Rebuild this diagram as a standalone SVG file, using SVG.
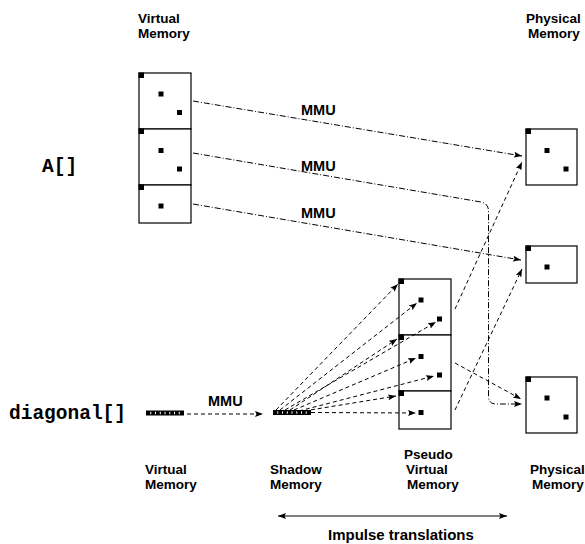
<svg xmlns="http://www.w3.org/2000/svg" width="585" height="544" viewBox="0 0 585 544">
<style>
.box{fill:#fff;stroke:#000;stroke-width:1.2}
.dot{fill:#000}
.lbl{font-family:"Liberation Sans",Arial,sans-serif;font-weight:bold;font-size:13.5px;fill:#000}
.big{font-family:"Liberation Sans",Arial,sans-serif;font-weight:bold;font-size:15px;fill:#000}
.mmu{font-family:"Liberation Sans",Arial,sans-serif;font-weight:bold;font-size:14.5px;fill:#000}
.code{font-family:"Liberation Mono","Courier New",monospace;font-weight:bold;font-size:19.5px;fill:#000}
.dd{fill:none;stroke:#000;stroke-width:1;stroke-dasharray:6 2 1 2;marker-end:url(#ah)}
.da{fill:none;stroke:#000;stroke-width:1;stroke-dasharray:4 3;marker-end:url(#ah)}
.sl{fill:none;stroke:#000;stroke-width:1.2;marker-end:url(#ah);marker-start:url(#ahs)}
</style>
<defs>
<marker id="ah" markerUnits="userSpaceOnUse" markerWidth="9" markerHeight="6" refX="8" refY="3" orient="auto"><path d="M0,0 L8,3 L0,6 L1.5,3 z" fill="#000"/></marker>
<marker id="ahs" markerUnits="userSpaceOnUse" markerWidth="9" markerHeight="6" refX="0" refY="3" orient="auto"><path d="M8,0 L0,3 L8,6 L6.5,3 z" fill="#000"/></marker>
<g id="strip"><rect x="0" y="0" width="38" height="5" fill="#000"/><g fill="#fff"><rect x="4.3" y="1.3" width="1" height="2.4"/><rect x="9" y="1.3" width="1" height="2.4"/><rect x="13.8" y="1.3" width="1" height="2.4"/><rect x="18.5" y="1.3" width="1" height="2.4"/><rect x="23.3" y="1.3" width="1" height="2.4"/><rect x="28" y="1.3" width="1" height="2.4"/><rect x="32.8" y="1.3" width="1" height="2.4"/></g></g>
</defs>

<g id="labels">
<text class="lbl" x="138" y="23">Virtual</text>
<text class="lbl" x="138" y="38">Memory</text>
<text class="lbl" x="526" y="23">Physical</text>
<text class="lbl" x="528" y="38">Memory</text>
<text class="code" x="42" y="172">A[]</text>
<text class="code" x="9" y="419">diagonal[]</text>
<text class="lbl" x="145" y="474">Virtual</text>
<text class="lbl" x="145" y="489">Memory</text>
<text class="lbl" x="270" y="474">Shadow</text>
<text class="lbl" x="270" y="489">Memory</text>
<text class="lbl" x="404" y="459">Pseudo</text>
<text class="lbl" x="406" y="474">Virtual</text>
<text class="lbl" x="407" y="489">Memory</text>
<text class="lbl" x="530" y="474">Physical</text>
<text class="lbl" x="532" y="489">Memory</text>
<text class="big" x="328" y="540">Impulse translations</text>
</g>

<g id="virtual-memory">
<rect class="box" x="139" y="73" width="52" height="56"/>
<rect class="box" x="139" y="129" width="52" height="56"/>
<rect class="box" x="139" y="185" width="52" height="38"/>
<rect class="dot" x="138.5" y="72.5" width="5.5" height="5.5"/>
<rect class="dot" x="158.5" y="91.5" width="5" height="5"/>
<rect class="dot" x="177" y="110" width="5" height="5"/>
<rect class="dot" x="138.5" y="128.5" width="5.5" height="5.5"/>
<rect class="dot" x="158.5" y="148" width="5" height="5"/>
<rect class="dot" x="177" y="166.5" width="5" height="5"/>
<rect class="dot" x="138.5" y="184.5" width="5.5" height="5.5"/>
<rect class="dot" x="158.5" y="203.5" width="5" height="5"/>
</g>

<g id="physical-memory">
<rect class="box" x="526" y="129" width="51" height="56"/>
<rect class="dot" x="525.5" y="128.5" width="5.5" height="5.5"/>
<rect class="dot" x="544.5" y="148" width="5" height="5"/>
<rect class="dot" x="563.5" y="166.5" width="5" height="5"/>
<rect class="box" x="526" y="246" width="51" height="37"/>
<rect class="dot" x="525.5" y="245.5" width="5.5" height="5.5"/>
<rect class="dot" x="544.5" y="264.5" width="5" height="5"/>
<rect class="box" x="526" y="377" width="51" height="56"/>
<rect class="dot" x="525.5" y="376.5" width="5.5" height="5.5"/>
<rect class="dot" x="544.5" y="395.5" width="5" height="5"/>
<rect class="dot" x="563.5" y="414.5" width="5" height="5"/>
</g>

<g id="pseudo-virtual-memory">
<rect class="box" x="399" y="279" width="52" height="56"/>
<rect class="box" x="399" y="335" width="52" height="56"/>
<rect class="box" x="399" y="391" width="52" height="38"/>
<rect class="dot" x="398.5" y="278.5" width="5.5" height="5.5"/>
<rect class="dot" x="418.5" y="297.5" width="5" height="5"/>
<rect class="dot" x="437" y="316.5" width="5" height="5"/>
<rect class="dot" x="398.5" y="334.5" width="5.5" height="5.5"/>
<rect class="dot" x="418.5" y="354" width="5" height="5"/>
<rect class="dot" x="437" y="372.5" width="5" height="5"/>
<rect class="dot" x="398.5" y="390.5" width="5.5" height="5.5"/>
<rect class="dot" x="418.5" y="410" width="5" height="5"/>
</g>

<g id="virtual-strip"><use href="#strip" x="146" y="410.5"/></g>
<g id="shadow-strip"><use href="#strip" x="273" y="410"/></g>

<g id="connectors">
<path class="dd" d="M193,101 L522,156"/>
<path class="dd" d="M193,153 L481,202 Q488.5,203.5 488.5,211 L488.5,396 Q488.5,404 496,404 L522,404"/>
<path class="dd" d="M193,204 L521,260"/>
<path class="da" d="M187,414 L263,414"/>
<path class="da" d="M276,410 L398,284"/>
<path class="da" d="M280,410 L417,303"/>
<path class="da" d="M285,410 L436,322"/>
<path class="da" d="M290,410 L397,339"/>
<path class="da" d="M294,410 L416,358"/>
<path class="da" d="M299,411 L434,376"/>
<path class="da" d="M304,411 L396,396"/>
<path class="da" d="M311,412.5 L416,413"/>
<path class="da" d="M455,309 L522,162"/>
<path class="da" d="M455,410 L522,269"/>
<path class="da" d="M455,363 L521,399"/>
<path class="sl" d="M278,516 L507,516"/>
</g>

<g id="connector-labels">
<text class="mmu" x="301" y="115">MMU</text>
<text class="mmu" x="301" y="171">MMU</text>
<text class="mmu" x="301" y="218">MMU</text>
<text class="mmu" x="208" y="406">MMU</text>
</g>
</svg>
